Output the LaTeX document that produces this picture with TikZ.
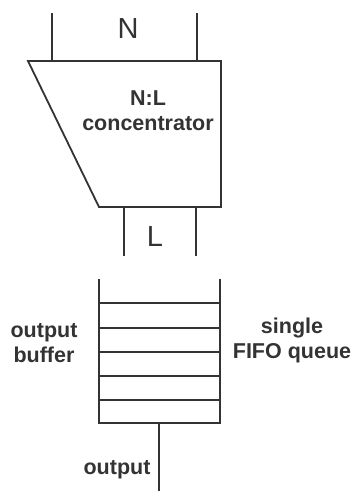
\documentclass[tikz,border=0pt]{standalone}
\usepackage{fontspec}
\setmainfont{Liberation Sans}
\begin{document}
\begin{tikzpicture}[x=1pt,y=-1pt,
  ln/.style={draw=black!80,line width=1.8pt},
  lbl/.style={font=\bfseries\fontsize{21.5}{25}\selectfont,text=black!80,align=center,inner sep=0pt},
  big/.style={font=\fontsize{29}{30}\selectfont,text=black!80,inner sep=0pt}]
\useasboundingbox (0,0) rectangle (352,491);
% concentrator
\coordinate (tl) at (28,61); \coordinate (tr) at (221,61);
\coordinate (br) at (221,207); \coordinate (bl) at (99,207);
\draw[ln,line join=miter] (tl) -- (tr) -- (br) -- (bl) -- cycle;
\node[lbl] (conc) at (148,111) {N:L\\concentrator};
% N inputs
\coordinate (n1t) at (52,13); \coordinate (n1b) at (52,61);
\coordinate (n2t) at (197,13); \coordinate (n2b) at (197,61);
\draw[ln] (n1t) -- (n1b); \draw[ln] (n2t) -- (n2b);
\node[big] (N) at (128,29) {N};
% L outputs
\coordinate (l1t) at (124,207); \coordinate (l1b) at (124,256);
\coordinate (l2t) at (196,207); \coordinate (l2b) at (196,256);
\draw[ln] (l1t) -- (l1b); \draw[ln] (l2t) -- (l2b);
\node[big] (L) at (155,237) {L};
% queue
\coordinate (ql) at (99,279); \coordinate (qr) at (220,279);
\draw[ln,line join=miter] (99,279) -- (99,423) -- (220,423) -- (220,279);
\foreach \y in {303,328,352,376,400} \draw[ln] (99,\y) -- (220,\y);
\coordinate (qb) at (159,423); \coordinate (out) at (159,491);
\draw[ln] (qb) -- (out);
\node[lbl] (ob) at (44,343) {output\\buffer};
\node[lbl] (fifo) at (292,340) {single\\FIFO queue};
\node[lbl] (o) at (117,470) {output};
\end{tikzpicture}
\end{document}
